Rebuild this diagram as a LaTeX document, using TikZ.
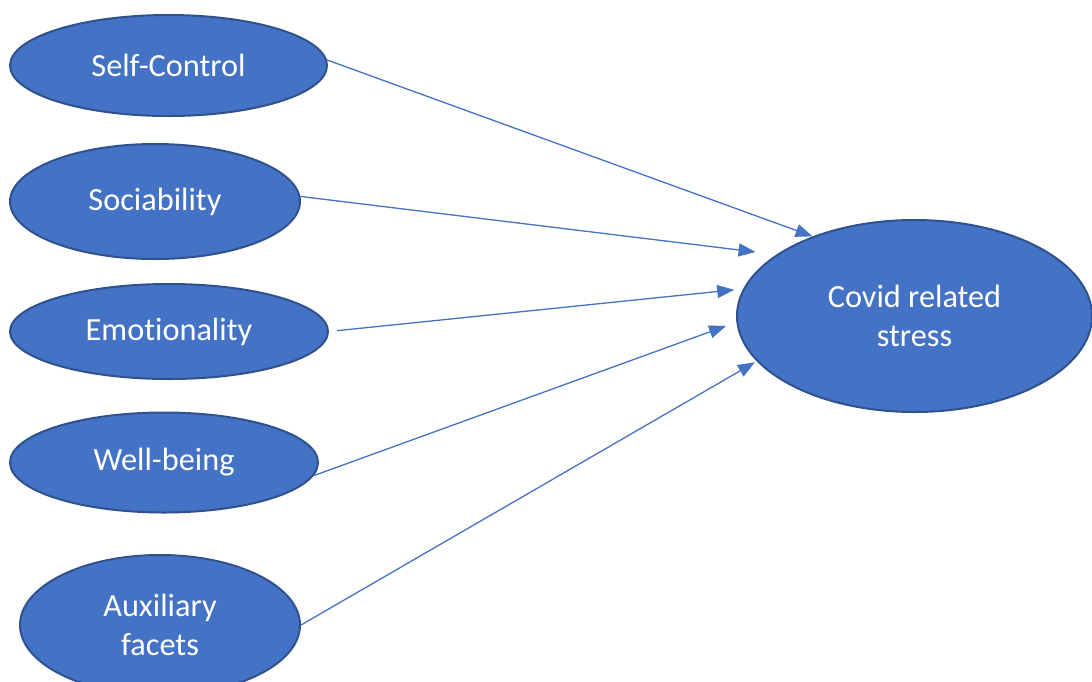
\documentclass[tikz,border=0pt]{standalone}
\usepackage{fontspec}
\setmainfont{Carlito}[Ligatures=NoCommon]
\usetikzlibrary{shapes.geometric,arrows.meta}
\begin{document}
\begin{tikzpicture}[x=1pt, y=-1pt]
    \definecolor{fill-blue}{HTML}{4472C4}
    \definecolor{edge-blue}{HTML}{2F528F}
    \tikzset{
      facet/.style={ellipse, draw=edge-blue, line width=2pt, fill=fill-blue,
        text=white, inner sep=0pt, align=center,
        font=\fontsize{32.3}{39}\selectfont},
      link/.style={draw=fill-blue, line width=1.3pt,
        -{Triangle[length=17pt,width=13pt]}}
    }
    \useasboundingbox (0,0) rectangle (1092,681);
    % predictors on the left
    \node[facet, minimum width=317pt, minimum height=101pt] (selfc) at (168.5,65.5) {Self-Control};
    \node[facet, minimum width=290pt, minimum height=115pt] (soc) at (155,201.5) {Sociability};
    \node[facet, minimum width=318pt, minimum height=95pt] (emo) at (169,331.5) {Emotionality};
    \node[facet, minimum width=308pt, minimum height=100pt] (well) at (164,462.5) {Well-being};
    \node[facet, minimum width=280pt, minimum height=140pt] (aux) at (160,625) {Auxiliary\\facets};
    % outcome
    \node[facet, minimum width=355pt, minimum height=192pt] (covid) at (914.5,316) {Covid related\\stress};
    % paths
    \draw[link] (selfc.2) -- (covid.142);
    \draw[link, shorten >=21pt] (soc.2) -- (covid.156);
    \draw[link, shorten <=8pt, shorten >=9pt] (emo.east) -- (covid.171);
    \draw[link, shorten >=11pt] (well.-5) -- (covid.182);
    \draw[link, shorten >=2pt] (aux.east) -- (covid.196);
\end{tikzpicture}
\end{document}
